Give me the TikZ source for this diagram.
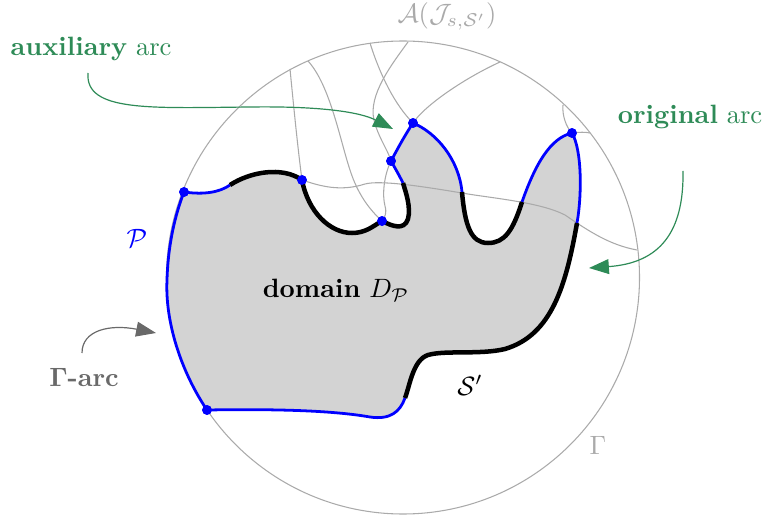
\documentclass[tikz,border=0pt]{standalone}
\usetikzlibrary{arrows.meta}
\definecolor{arcgreen}{RGB}{46,139,87}
\definecolor{fillgray}{RGB}{211,211,211}
\definecolor{linegray}{RGB}{170,170,170}
\definecolor{labelgray}{RGB}{105,105,105}
\begin{document}
\begin{tikzpicture}[x=0.3774pt,y=-0.3774pt,
  pblue/.style={blue,line width=1.05pt},
  sblack/.style={black,line width=1.7pt},
  jline/.style={linegray,line width=0.4pt},
  dotp/.style={circle,fill=blue,inner sep=0pt,minimum size=3.6pt},
  greenarrow/.style={arcgreen,line width=0.45pt,-{Triangle[length=7.5pt,width=5.6pt]}},
  grayarrow/.style={labelgray,line width=0.45pt,-{Triangle[length=7.5pt,width=5.6pt]}}]
\useasboundingbox (0,0) rectangle (765,518);
% circle Gamma
\node[circle,draw=linegray,line width=0.4pt,minimum size=473*0.3774pt,inner sep=0pt] (gam) at (403,277.5) {};
% domain fill
\fill[fillgray] (184,192) .. controls (205,195) and (220,192) .. (230,185)
  .. controls (250,172) and (282,166) .. (302,180)
  .. controls (308,212) and (330,233) .. (352,233) .. controls (366,233) and (373,226) .. (382,221)
  .. controls (392,226) and (404,231) .. (408,219) .. controls (411,207) and (406,193) .. (403,183)
  .. controls (399,175) and (395,168) .. (391,161)
  .. controls (398,148) and (405,135) .. (413,123)
  .. controls (437,133) and (459,160) .. (462,192)
  .. controls (465,226) and (471,243) .. (488,243) .. controls (505,243) and (513,230) .. (522,202)
  .. controls (535,165) and (550,138) .. (572,133)
  .. controls (582,150) and (582,195) .. (577,223)
  .. controls (566,285) and (552,335) .. (505,349) .. controls (480,355) and (445,350) .. (428,355) .. controls (413,360) and (410,385) .. (405,398)
  .. controls (400,412) and (390,420) .. (370,417) .. controls (330,410) and (270,409) .. (207,410)
  .. controls (180,370) and (165,320) .. (167,280) .. controls (168,245) and (175,215) .. (184,192) -- cycle;
% A(J) arcs
\coordinate (a1) at (290,69);
\coordinate (a2) at (308,61);
\coordinate (a3) at (370,43);
\coordinate (a4) at (408,42);
\coordinate (a5) at (500,62);
\coordinate (a6) at (563,105);
\coordinate (a7) at (590,133);
\coordinate (a8) at (637,250);
\node[dotp] (p1) at (184,192) {};
\node[dotp] (p2) at (302,180) {};
\node[dotp] (p3) at (382,221) {};
\node[dotp] (p4) at (391,161) {};
\node[dotp] (p5) at (413,123) {};
\node[dotp] (p6) at (572,133) {};
\node[dotp] (p7) at (207,410) {};
\draw[jline] (a1) .. controls (294,110) and (298,150) .. (p2.center);
\draw[jline] (a2) .. controls (330,85) and (340,140) .. (350,170) .. controls (358,195) and (370,210) .. (p3.center);
\draw[jline] (a3) .. controls (380,75) and (395,105) .. (p5.center);
\draw[jline] (a4) .. controls (392,64) and (368,95) .. (374,120) .. controls (378,137) and (388,150) .. (p4.center)
  .. controls (384,175) and (382,195) .. (385,206) .. controls (387,213) and (385,217) .. (p3.center);
\draw[jline] (a5) .. controls (465,78) and (425,105) .. (p5.center);
\draw[jline] (p2.center) .. controls (320,186) and (340,192) .. (365,184) .. controls (380,180) and (420,186) .. (462,193)
  .. controls (490,198) and (540,202) .. (565,215) .. controls (590,232) and (610,245) .. (a8);
\draw[jline] (a6) .. controls (562,115) and (566,127) .. (p6.center);
\draw[jline] (p6.center) .. controls (580,132) and (585,132) .. (a7);
% boundary: blue parts
\draw[pblue] (p1.center) .. controls (205,195) and (220,192) .. (230,185);
\draw[pblue] (403,183) .. controls (399,175) and (395,168) .. (p4.center)
  .. controls (398,148) and (405,135) .. (p5.center)
  .. controls (437,133) and (459,160) .. (462,192);
\draw[pblue] (522,202) .. controls (535,165) and (550,138) .. (p6.center)
  .. controls (582,150) and (582,195) .. (577,223);
\draw[pblue] (405,398) .. controls (400,412) and (390,420) .. (370,417) .. controls (330,410) and (270,409) .. (p7.center)
  .. controls (180,370) and (165,320) .. (167,280) .. controls (168,245) and (175,215) .. (p1.center);
% boundary: black parts (S')
\draw[sblack] (230,185) .. controls (250,172) and (282,166) .. (p2.center)
  .. controls (308,212) and (330,233) .. (352,233) .. controls (366,233) and (373,226) .. (p3.center)
  .. controls (392,226) and (404,231) .. (408,219) .. controls (411,207) and (406,193) .. (403,183);
\draw[sblack] (462,192) .. controls (465,226) and (471,243) .. (488,243) .. controls (505,243) and (513,230) .. (522,202);
\draw[sblack] (577,223) .. controls (566,285) and (552,335) .. (505,349) .. controls (480,355) and (445,350) .. (428,355) .. controls (413,360) and (410,385) .. (405,398);
% dots on top
\foreach \p in {p1,p2,p3,p4,p5,p6,p7} \fill[blue] (\p) circle (1.85pt);
% labels
\node[anchor=base,text=arcgreen,inner sep=0pt] (aux) at (91,56) {\textbf{auxiliary} arc};
\node[anchor=base,text=arcgreen,inner sep=0pt] (orig) at (690,124) {\textbf{original} arc};
\node[anchor=base,text=labelgray,inner sep=0pt] (garc) at (84,386) {$\mathbf{\Gamma}$\textbf{-arc}};
\node[text=blue,inner sep=0pt] (plab) at (137,238) {$\mathcal{P}$};
\node[anchor=base,inner sep=0pt] (dom) at (336,298) {\textbf{domain} $D_{\mathcal{P}}$};
\node[anchor=base,inner sep=0pt] (slab) at (470,395) {$\mathcal{S}'$};
\node[anchor=base,text=linegray,inner sep=0pt] (glab) at (598,454) {$\Gamma$};
\node[anchor=base,text=linegray,inner sep=0pt] (alab) at (447,23) {$\mathcal{A}(\mathcal{J}_{s,\mathcal{S}'})$};
% arrows
\coordinate (auxs) at (88,73);
\coordinate (auxe) at (393,129);
\coordinate (origs) at (683,171);
\coordinate (orige) at (589,268);
\coordinate (garcs) at (82,353);
\coordinate (garce) at (156,333);
\draw[greenarrow] (auxs) .. controls (85,112) and (150,108) .. (250,107) .. controls (320,106) and (360,112) .. (auxe);
\draw[greenarrow] (origs) .. controls (684,232) and (660,263) .. (orige);
\draw[grayarrow] (garcs) .. controls (82,330) and (110,324) .. (garce);
\end{tikzpicture}
\end{document}
